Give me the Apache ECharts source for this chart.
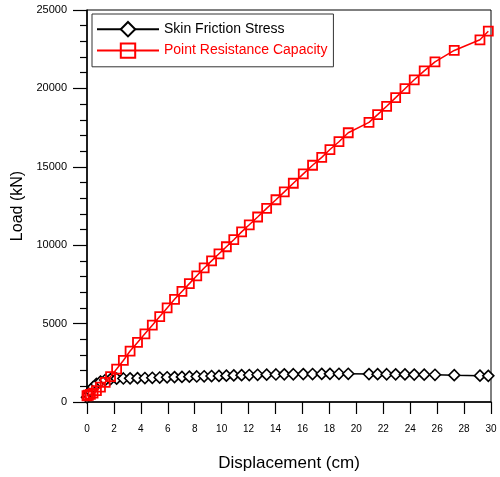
<!DOCTYPE html>
<html>
<head>
<meta charset="utf-8">
<script src="https://cdn.jsdelivr.net/npm/echarts@6/dist/echarts.min.js"></script>
<style>html,body{margin:0;padding:0;background:#fff;}#c{width:500px;height:477px;}</style>
</head>
<body>
<div id="c"></div>
<script>
const displacement = [0, 0.1, 0.25, 0.45, 0.7, 1.0, 1.35, 1.75, 2.2, 2.7, 3.2, 3.75, 4.3, 4.85, 5.4, 5.95, 6.5, 7.05, 7.6, 8.15, 8.7, 9.25, 9.8, 10.35, 10.9, 11.48, 12.05, 12.67, 13.34, 14.03, 14.65, 15.32, 16.06, 16.75, 17.43, 18.04, 18.71, 19.40, 20.94, 21.58, 22.25, 22.92, 23.61, 24.30, 25.04, 25.84, 27.27, 29.18, 29.80];
const skinFriction = [300, 450, 700, 950, 1150, 1300, 1400, 1460, 1490, 1500, 1510, 1520, 1530, 1545, 1560, 1575, 1590, 1600, 1615, 1630, 1640, 1655, 1665, 1680, 1695, 1710, 1720, 1735, 1745, 1755, 1765, 1770, 1780, 1785, 1790, 1795, 1800, 1800, 1780, 1775, 1770, 1765, 1760, 1750, 1745, 1735, 1710, 1680, 1670];
const pointResistance = [400, 430, 480, 560, 720, 950, 1250, 1620, 2100, 2650, 3250, 3800, 4350, 4900, 5450, 6000, 6550, 7050, 7550, 8050, 8550, 9000, 9450, 9900, 10350, 10850, 11300, 11800, 12350, 12900, 13400, 13950, 14550, 15100, 15600, 16100, 16600, 17170, 17830, 18330, 18860, 19410, 19980, 20550, 21120, 21690, 22420, 23100, 23650];
const seriesNames = ['Skin Friction Stress', 'Point Resistance Capacity'];
const xTicks = {min: 0, max: 30, interval: 2};
const yTicks = {min: 0, max: 25000, interval: 5000};

const font = "'Liberation Sans', Arial, sans-serif";
const chart = echarts.init(document.getElementById('c'), null, {renderer: 'canvas'});
chart.setOption({
  backgroundColor: '#fff',
  animation: false,
  grid: {left: 87, right: 9, top: 10, bottom: 73, show: true, borderColor: '#000', borderWidth: 1, backgroundColor: 'transparent'},
  legend: {
    orient: 'vertical', left: 92, top: 14,
    padding: [7, 6, 8, 4],
    itemWidth: 62, itemHeight: 18, itemGap: 5,
    borderColor: '#333', borderWidth: 1, backgroundColor: '#fff',
    textStyle: {fontFamily: font, fontSize: 14},
    data: [
      {name: seriesNames[0], textStyle: {color: '#000'}},
      {name: seriesNames[1], textStyle: {color: '#f00'}}
    ]
  },
  xAxis: {
    type: 'value', min: xTicks.min, max: xTicks.max, interval: xTicks.interval,
    name: 'Displacement (cm)', nameLocation: 'middle', nameGap: 53,
    nameTextStyle: {fontFamily: font, fontSize: 17, color: '#000'},
    axisLine: {onZero: false, lineStyle: {color: '#000', width: 1.5}},
    axisTick: {inside: false, length: 12, lineStyle: {color: '#000', width: 1.2}},
    axisLabel: {margin: 22, fontFamily: font, fontSize: 10, color: '#000'},
    splitLine: {show: false}
  },
  yAxis: {
    type: 'value', min: yTicks.min, max: yTicks.max, interval: yTicks.interval,
    name: 'Load (kN)', nameLocation: 'middle', nameGap: 58, nameRotate: 90,
    nameTextStyle: {fontFamily: font, fontSize: 16, color: '#000'},
    axisLine: {onZero: false, lineStyle: {color: '#000', width: 1.5}},
    axisTick: {inside: false, length: 14, lineStyle: {color: '#000', width: 1.2}},
    minorTick: {show: true, splitNumber: 5, length: 7, lineStyle: {color: '#000', width: 1.2}},
    axisLabel: {margin: 20, fontFamily: font, fontSize: 11, color: '#000', formatter: v => String(v)},
    splitLine: {show: false}
  },
  series: [
    {
      name: seriesNames[0], type: 'line',
      data: displacement.map((x, i) => [x, skinFriction[i]]),
      symbol: 'diamond', symbolSize: [11, 11],
      lineStyle: {color: '#000', width: 1.5},
      itemStyle: {color: '#fff', borderColor: '#000', borderWidth: 1.6},
      z: 2
    },
    {
      name: seriesNames[1], type: 'line',
      data: displacement.map((x, i) => [x, pointResistance[i]]),
      symbol: 'rect', symbolSize: [9, 9],
      lineStyle: {color: '#f00', width: 1.5},
      itemStyle: {color: 'rgba(255,255,255,0)', borderColor: '#f00', borderWidth: 1.8},
      z: 3
    }
  ]
});
</script>
</body>
</html>
